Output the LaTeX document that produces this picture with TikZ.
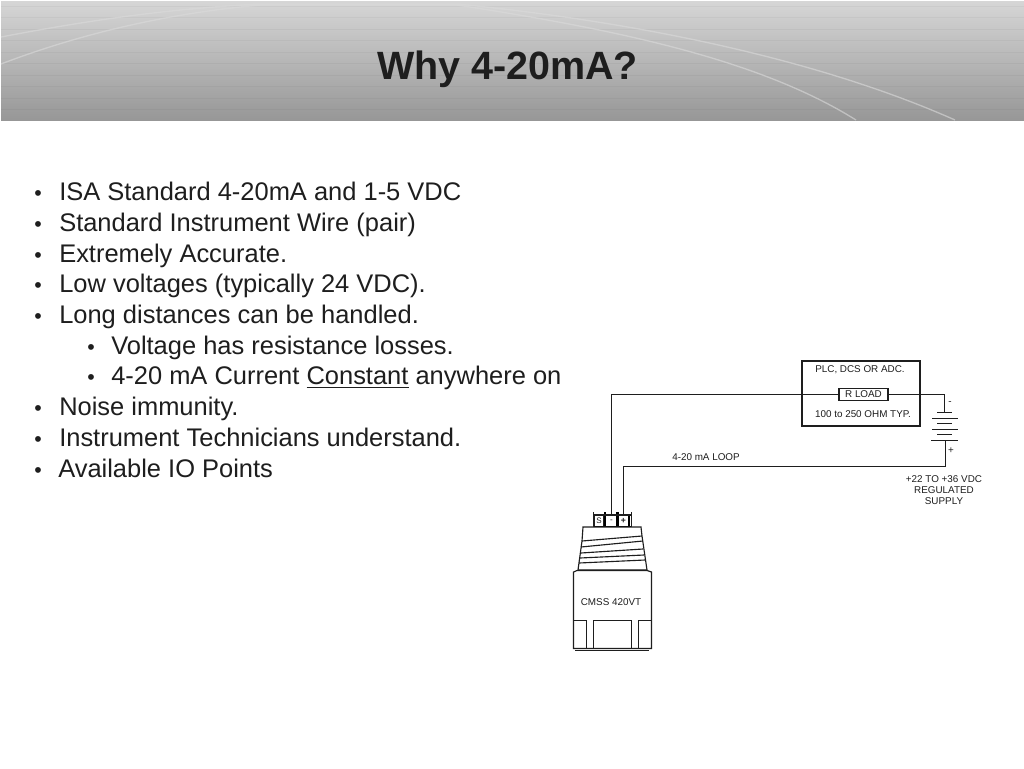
\documentclass[tikz,border=0pt]{standalone}
\usepackage{fontspec}
\setmainfont{Liberation Sans}
\definecolor{ink}{HTML}{1E1E1E}
\definecolor{headtop}{HTML}{D6D6D6}
\definecolor{headbot}{HTML}{979797}
\definecolor{arcc}{HTML}{DADADA}
\tikzset{
  wire/.style={draw=ink,line width=0.9pt},
  thin wire/.style={draw=ink,line width=0.85pt},
  thick wire/.style={draw=black,line width=1.7pt},
  bul/.style={anchor=base west,inner sep=0pt,font=\fontsize{19.1pt}{22pt}\selectfont,text=ink},
  dotmark/.style={anchor=base west,inner sep=0pt,font=\fontsize{16pt}{20pt}\selectfont,text=ink},
  smalltext/.style={inner sep=0pt,font=\fontsize{7.4pt}{8.25pt}\selectfont,text=ink,align=center},
  arcline/.style={draw=arcc,line width=1pt,opacity=.6},
  stripe/.style={draw=black,line width=.6pt,opacity=.035},
}
\begin{document}
\begin{tikzpicture}[x=0.75pt,y=-0.75pt]
\useasboundingbox (0,0) rectangle (1024,768);
\fill[white] (0,0) rectangle (1024,768);
% header
\shade[top color=headtop,bottom color=headbot] (1,1) rectangle (1024,120);
\foreach \yy in {6,17,29,40,52,63,75,86,98,109}{\draw[stripe] (1,\yy) -- (1024,\yy);}
\draw[arcline] (1,37) .. controls (100,18) and (180,8) .. (261,4) -- (457,4) .. controls (640,22) and (820,60) .. (955,120);
\draw[arcline] (1,64) .. controls (90,30) and (180,12) .. (261,5) -- (457,5) .. controls (620,30) and (760,60) .. (856,120);
\node[anchor=base,inner sep=0pt,font=\fontsize{29.6pt}{32pt}\selectfont\bfseries,text=ink] (title) at (507.5,79) {Why 4-20mA?};
% bullets
\foreach \nm/\yy/\tx in {a/200.7/ISA Standard 4-20mA and 1-5 VDC,b/231.7/Standard Instrument Wire (pair),c/262.4/Extremely Accurate.,d/292.7/Low voltages (typically 24 VDC).,e/323.7/Long distances can be handled.,h/415.7/Noise immunity.,i/446.7/Instrument Technicians understand.}{
  \node[dotmark] at (34,\yy) {•};
  \node[bul] (t\nm) at (59,\yy) {\tx};
}
\node[dotmark] at (34,477.7) {•};
\node[bul] (tj) at (58,477.7) {Available IO Points};
\node[dotmark] at (87,354.7) {•};
\node[bul] (tf) at (111,354.7) {Voltage has resistance losses.};
\node[dotmark] at (87,384.7) {•};
\node[bul] (tg) at (111,384.7) {4-20 mA Current \underline{Constant} anywhere on};
% PLC box
\node[draw=ink,line width=0.85pt,minimum width=88.5pt,minimum height=48.75pt,inner sep=0pt] (plc) at (861,393.5) {};
\node[smalltext] (plct) at (860,369.5) {PLC, DCS OR ADC.};
\node[draw=ink,line width=0.85pt,fill=white,minimum width=36.75pt,minimum height=9pt,inner sep=0pt,font=\fontsize{7.4pt}{8pt}\selectfont,text=ink] (rload) at (863.5,394.5) {R LOAD};
\node[smalltext] (plcb) at (863,414.5) {100 to 250 OHM TYP.};
% battery
\coordinate (plate1) at (944.5,412.5);
\coordinate (plate5) at (945.5,440.5);
\draw[thin wire] (937,412.5) -- (952,412.5);
\draw[thin wire] (932,418.5) -- (958,418.5);
\draw[thin wire] (937,423.5) -- (952,423.5);
\draw[thin wire] (932,429.5) -- (958,429.5);
\draw[thin wire] (937,434.5) -- (952,434.5);
\draw[thin wire] (931,440.5) -- (958,440.5);
\node[smalltext] (minus) at (950,403) {-};
\node[smalltext] (plus) at (951,451) {+};
\node[smalltext] (supply) at (944,490.5) {+22 TO +36 VDC\\REGULATED\\SUPPLY};
\node[smalltext] (loop) at (706,457) {4-20 mA LOOP};
% terminal block
\node[inner sep=0pt,minimum width=6.5pt,minimum height=8.5pt,draw=ink,line width=.5pt,font=\fontsize{6pt}{6pt}\selectfont,text=ink] (ts) at (599,521) {S};
\node[inner sep=0pt,minimum width=7.5pt,minimum height=8.5pt,font=\fontsize{6pt}{6pt}\selectfont,text=ink] (tm) at (611.5,521) {-};
\node[inner sep=0pt,minimum width=7.5pt,minimum height=8.5pt,font=\fontsize{6.5pt}{6.5pt}\selectfont\bfseries,text=ink] (tp) at (623.5,521) {+};
\draw[thin wire] (593.5,512) -- (593.5,527);
\draw[thin wire] (631.5,512) -- (631.5,527);
\draw[thick wire] (605,512) -- (605,527);
\draw[thick wire] (617.5,512) -- (617.5,527);
\draw[thick wire] (629,514) -- (629,527);
\draw[thin wire] (593,515) -- (631,515);
\draw[thick wire] (594,527) -- (631,527);
% wires
\draw[wire] (rload.west) -- (rload.west -| tm.north) -- (tm.north);
\draw[wire] (rload.east) -- (plate1 |- rload.east) -- (plate1);
\draw[wire] (plate5) -- (945.5,466.5) -- (tp.north |- 0,466.5) -- (tp.north);
% threads
\draw[thin wire,fill=white] (583,527) -- (641,527) -- (642,536) -- (647,570) -- (578,570) -- (582,541) -- cycle;
\draw[thin wire] (582,541) -- (642,536);
\draw[thin wire] (581,547) -- (643,541);
\draw[thin wire] (581,553) -- (643,549);
\draw[thin wire] (580,558) -- (644,555);
\draw[thin wire] (579,563) -- (645,560);
% body
\draw[thin wire] (573.5,572) -- (577,570.5) -- (647,570.5) -- (651.5,572) -- (651.5,648.5) -- (573.5,648.5) -- cycle;
\draw[thin wire] (575,650.5) -- (649,650.5);
\draw[thin wire] (573.5,620.5) -- (586.5,620.5) -- (586.5,648.5);
\draw[thin wire] (651.5,620.5) -- (638.5,620.5) -- (638.5,648.5);
\draw[thin wire] (593.5,648.5) -- (593.5,620.5) -- (631.5,620.5) -- (631.5,648.5);
\node[smalltext] (cmss) at (611,602) {CMSS 420VT};
\end{tikzpicture}
\end{document}
